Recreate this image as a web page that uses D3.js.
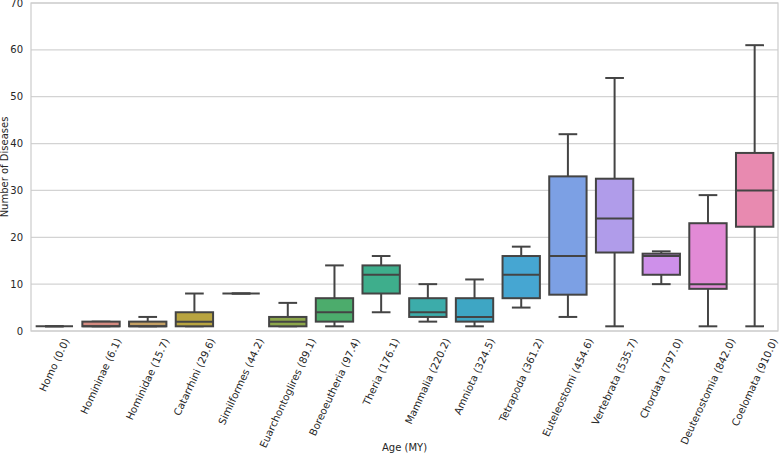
<!DOCTYPE html>
<html><head><meta charset="utf-8">
<script src="https://cdn.jsdelivr.net/npm/d3@7"></script>
<style>body{margin:0;background:#fff}svg{display:block;font-family:"DejaVu Sans",sans-serif}</style>
</head><body><svg id="chart" width="779" height="454"></svg>
<script>
const categories = ["Homo (0.0)","Homininae (6.1)","Hominidae (15.7)","Catarrhini (29.6)","Similformes (44.2)","Euarchontoglires (89.1)","Boreoeutheria (97.4)","Theria (176.1)","Mammalia (220.2)","Amniota (324.5)","Tetrapoda (361.2)","Euteleostomi (454.6)","Vertebrata (535.7)","Chordata (797.0)","Deuterostomia (842.0)","Coelomata (910.0)"];
const whiskerLow  = [1,1,1,1,8,1,1,4,2,1,5,3,1,10,1,1];
const q1          = [1,1,1,1,8,1,2,8,3,2,7,7.75,16.75,12,9,22.25];
const median      = [1,1,1,2,8,2,4,12,4,3,12,16,24,16,10,30];
const q3          = [1,2,2,4,8,3,7,14,7,7,16,33,32.5,16.5,23,38];
const whiskerHigh = [1,2,3,8,8,6,14,16,10,11,18,42,54,17,29,61];
const yTicks = [0,10,20,30,40,50,60,70];
const palette = ["#d8889a","#d48a80","#c4a064","#b8a440","#a6a842","#8ca64a","#4cac6c","#3eae8c","#3cacaa","#3ea6c4","#46a6d2","#7ca0e4","#b09cea","#ce90ea","#e28ad6","#e88ab0"];

const svg=d3.select("#chart");
const m={l:31,r:778,t:3,b:331};
const x=d3.scaleBand().domain(categories).range([m.l,m.r]);
const y=d3.scaleLinear().domain([0,70]).range([m.b,m.t]);
const ink="#262626", line="#444444";

// grid
svg.append("g").selectAll("line").data(yTicks).join("line")
  .attr("x1",m.l).attr("x2",m.r).attr("y1",d=>y(d)).attr("y2",d=>y(d))
  .attr("stroke","#d3d3d3").attr("stroke-width",1.2);
// frame
svg.append("rect").attr("x",m.l).attr("y",m.t).attr("width",m.r-m.l).attr("height",m.b-m.t)
  .attr("fill","none").attr("stroke","#cccccc").attr("stroke-width",1.2);

// y tick labels
svg.append("g").selectAll("text").data(yTicks).join("text")
  .attr("x",m.l-8).attr("y",d=>y(d)).attr("dy","0.35em").attr("text-anchor","end")
  .attr("font-size",10).attr("fill",ink).text(d=>d);

// boxes
const bw=x.bandwidth()*0.8;
const g=svg.append("g").selectAll("g").data(categories).join("g")
  .attr("transform",d=>`translate(${x(d)+x.bandwidth()/2},0)`);
g.append("line").attr("x1",0).attr("x2",0).attr("y1",(d,i)=>y(whiskerLow[i])).attr("y2",(d,i)=>y(q1[i]))
  .attr("stroke",line).attr("stroke-width",2);
g.append("line").attr("x1",0).attr("x2",0).attr("y1",(d,i)=>y(q3[i])).attr("y2",(d,i)=>y(whiskerHigh[i]))
  .attr("stroke",line).attr("stroke-width",2);
g.append("line").attr("x1",-bw/4).attr("x2",bw/4).attr("y1",(d,i)=>y(whiskerLow[i])).attr("y2",(d,i)=>y(whiskerLow[i]))
  .attr("stroke",line).attr("stroke-width",2);
g.append("line").attr("x1",-bw/4).attr("x2",bw/4).attr("y1",(d,i)=>y(whiskerHigh[i])).attr("y2",(d,i)=>y(whiskerHigh[i]))
  .attr("stroke",line).attr("stroke-width",2);
g.append("rect").attr("x",-bw/2).attr("width",bw)
  .attr("y",(d,i)=>y(q3[i])).attr("height",(d,i)=>y(q1[i])-y(q3[i]))
  .attr("fill",(d,i)=>palette[i]).attr("stroke",line).attr("stroke-width",2);
g.append("line").attr("x1",-bw/2).attr("x2",bw/2).attr("y1",(d,i)=>y(median[i])).attr("y2",(d,i)=>y(median[i]))
  .attr("stroke",line).attr("stroke-width",2);

// x tick labels rotated 65deg, bbox centred on tick
const ang=65*Math.PI/180;
const xl=svg.append("g").selectAll("text").data(categories).join("text")
  .attr("font-size",10.2).attr("fill",ink).attr("text-anchor","middle").attr("dominant-baseline","central")
  .text(d=>d);
xl.each(function(d){
  const w=this.getComputedTextLength(), h=9;
  const bh=w*Math.sin(ang)+h*Math.cos(ang);
  const cx=x(d)+x.bandwidth()/2, cy=m.b+6+bh/2;
  d3.select(this).attr("transform",`translate(${cx},${cy}) rotate(-65)`);
});

// axis titles
svg.append("text").attr("x",(m.l+m.r)/2).attr("y",451).attr("text-anchor","middle")
  .attr("font-size",10).attr("fill",ink).text("Age (MY)");
svg.append("text").attr("transform",`translate(8,${(m.t+m.b)/2}) rotate(-90)`).attr("text-anchor","middle")
  .attr("font-size",10).attr("fill",ink).text("Number of Diseases");
</script></body></html>
